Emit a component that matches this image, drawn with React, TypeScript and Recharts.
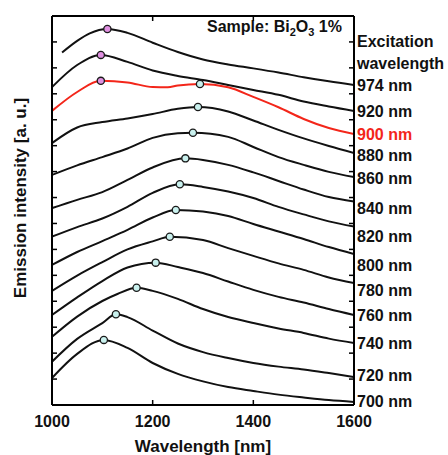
import { ComposedChart, Line, Scatter, XAxis, YAxis } from "recharts"

const FONT = "'Liberation Sans', Arial, Helvetica, sans-serif"
const RED = "#f3261a"

// emission spectra, one per excitation wavelength (x = nm, y = a.u. offset stack)
const x974 = [1020, 1050, 1075, 1110, 1150, 1200, 1250, 1300, 1350, 1400, 1450, 1500, 1550, 1600]
const y974 = [13.59, 14.04, 14.33, 14.5, 14.35, 13.97, 13.61, 13.32, 13.13, 12.98, 12.82, 12.64, 12.48, 12.34]

const x920 = [1000, 1050, 1097, 1150, 1200, 1250, 1300, 1350, 1400, 1450, 1500, 1550, 1600]
const y920 = [12.26, 13.11, 13.5, 13.23, 12.9, 12.69, 12.53, 12.34, 12.15, 11.96, 11.7, 11.51, 11.34]

const x900 = [1000, 1050, 1097, 1150, 1200, 1230, 1250, 1294, 1350, 1400, 1450, 1500, 1550, 1600]
const y900 = [11.34, 12.07, 12.5, 12.44, 12.26, 12.25, 12.32, 12.38, 12.25, 11.88, 11.48, 11.03, 10.68, 10.45]

const x880 = [1000, 1050, 1100, 1150, 1200, 1250, 1290, 1350, 1400, 1450, 1500, 1550, 1600]
const y880 = [10.1, 10.7, 10.91, 11.05, 11.22, 11.42, 11.49, 11.32, 10.97, 10.61, 10.28, 9.99, 9.72]

const x860 = [1000, 1050, 1100, 1150, 1200, 1250, 1280, 1350, 1400, 1450, 1500, 1550, 1600]
const y860 = [8.87, 9.24, 9.56, 9.89, 10.3, 10.48, 10.5, 10.34, 9.95, 9.56, 9.26, 8.99, 8.79]

const x840 = [1000, 1050, 1100, 1150, 1200, 1265, 1300, 1350, 1400, 1450, 1500, 1550, 1600]
const y840 = [7.59, 7.91, 8.21, 8.68, 9.16, 9.51, 9.45, 9.26, 8.97, 8.64, 8.31, 8.02, 7.85]

const x820 = [1000, 1050, 1100, 1150, 1200, 1254, 1300, 1350, 1400, 1450, 1500, 1550, 1600]
const y820 = [6.49, 6.86, 7.19, 7.64, 8.18, 8.51, 8.41, 8.23, 7.98, 7.64, 7.35, 7.08, 6.88]

const x800 = [1000, 1050, 1100, 1150, 1200, 1246, 1300, 1350, 1400, 1450, 1500, 1550, 1600]
const y800 = [5.4, 5.9, 6.32, 6.75, 7.23, 7.52, 7.46, 7.29, 6.98, 6.69, 6.4, 6.09, 5.82]

const x780 = [1000, 1050, 1100, 1150, 1200, 1234, 1300, 1350, 1400, 1450, 1500, 1550, 1600]
const y780 = [4.4, 4.99, 5.51, 6.0, 6.31, 6.49, 6.36, 6.05, 5.75, 5.46, 5.21, 4.92, 4.7]

const x760 = [1000, 1050, 1100, 1150, 1206, 1250, 1300, 1350, 1400, 1450, 1500, 1550, 1600]
const y760 = [3.47, 4.15, 4.78, 5.3, 5.49, 5.32, 5.09, 4.76, 4.44, 4.17, 3.95, 3.7, 3.47]

const x740 = [1000, 1050, 1100, 1130, 1168, 1200, 1250, 1300, 1350, 1400, 1450, 1500, 1550, 1600]
const y740 = [2.63, 3.41, 4.01, 4.28, 4.52, 4.4, 4.09, 3.7, 3.39, 3.16, 2.95, 2.78, 2.56, 2.39]

const x720 = [1000, 1050, 1100, 1127, 1150, 1200, 1250, 1300, 1350, 1400, 1450, 1500, 1550, 1600]
const y720 = [1.67, 2.55, 3.16, 3.5, 3.39, 2.87, 2.37, 2.04, 1.81, 1.62, 1.48, 1.37, 1.23, 1.08]

const x700 = [1000, 1050, 1103, 1150, 1200, 1250, 1300, 1350, 1400, 1450, 1500, 1550, 1600]
const y700 = [1.04, 1.97, 2.51, 2.2, 1.62, 1.2, 0.91, 0.69, 0.54, 0.4, 0.29, 0.19, 0.12]

// peak markers
const pinkX = [1110, 1097, 1097]
const pinkY = [14.5, 13.5, 12.5]
const cyanX = [1294, 1290, 1280, 1265, 1254, 1246, 1234, 1206, 1168, 1127, 1103]
const cyanY = [12.38, 11.49, 10.5, 9.51, 8.51, 7.52, 6.49, 5.49, 4.52, 3.5, 2.51]

// right-hand labels
const excLabels = ["974 nm", "920 nm", "900 nm", "880 nm", "860 nm", "840 nm", "820 nm", "800 nm", "780 nm", "760 nm", "740 nm", "720 nm", "700 nm"]
const excLabelPos = [12.34, 11.31, 10.45, 9.64, 8.74, 7.59, 6.49, 5.4, 4.43, 3.47, 2.38, 1.16, 0.13]

const xTicks = [1000, 1200, 1400, 1600]
const yTicks = [0, 1, 2, 3, 4, 5, 6, 7, 8, 9, 10, 11, 12, 13, 14, 15]

const zip = (xs: number[], ys: number[]) => xs.map((x, i) => ({ x, y: ys[i] }))

const curves = [
    { name: "974", data: zip(x974, y974), color: "#111" },
    { name: "920", data: zip(x920, y920), color: "#111" },
    { name: "900", data: zip(x900, y900), color: RED },
    { name: "880", data: zip(x880, y880), color: "#111" },
    { name: "860", data: zip(x860, y860), color: "#111" },
    { name: "840", data: zip(x840, y840), color: "#111" },
    { name: "820", data: zip(x820, y820), color: "#111" },
    { name: "800", data: zip(x800, y800), color: "#111" },
    { name: "780", data: zip(x780, y780), color: "#111" },
    { name: "760", data: zip(x760, y760), color: "#111" },
    { name: "740", data: zip(x740, y740), color: "#111" },
    { name: "720", data: zip(x720, y720), color: "#111" },
    { name: "700", data: zip(x700, y700), color: "#111" },
]

// invisible helper series so the frame axes get a domain
const frameData = zip(xTicks, [0, 0, 0, 0])

const NoTick = () => <g />

function ExcTick(props: any) {
    const { x, y, payload } = props
    const i = excLabelPos.indexOf(payload.value)
    const label = excLabels[i]
    return (
        <text x={x} y={y} dy="0.36em" fill={label === "900 nm" ? RED : "#111"}
            fontSize={16} fontWeight="bold" fontFamily={FONT}>
            {label}
        </text>
    )
}

const dot = (fill: string) => (p: any) =>
    <circle cx={p.cx} cy={p.cy} r={3.6} fill={fill} stroke="#1a1a1a" strokeWidth={1.3} />

const frameLine = { stroke: "#000", strokeWidth: 2 }
const tickStroke = { stroke: "#000", strokeWidth: 1.5 }

export default function App() {
    return (
        <div style={{ position: "absolute", left: 0, top: 0, width: 448, height: 455, background: "#fff", fontFamily: FONT }}>
            <ComposedChart width={448} height={455} margin={{ top: 16, right: 0, bottom: 0, left: 52 }}>
                {/* bottom labels */}
                <XAxis dataKey="x" type="number" domain={[1000, 1600]} ticks={xTicks} allowDataOverflow
                    height={50} tickSize={0} tickMargin={11} interval={0}
                    axisLine={frameLine} tickLine={false}
                    tick={{ fill: "#111", fontSize: 16, fontWeight: "bold", fontFamily: FONT }}
                    label={{ value: "Wavelength [nm]", position: "insideBottom", offset: 3, fill: "#111", fontSize: 17, fontWeight: "bold", fontFamily: FONT }} />
                {/* inward ticks, bottom and top */}
                <XAxis xAxisId="bt" orientation="bottom" mirror dataKey="x" type="number" domain={[1000, 1600]} ticks={xTicks}
                    allowDataOverflow tickSize={5} tick={NoTick} interval={0} axisLine={frameLine} tickLine={tickStroke} />
                <XAxis xAxisId="top" orientation="top" mirror dataKey="x" type="number" domain={[1000, 1600]} ticks={xTicks}
                    allowDataOverflow tickSize={5} tick={NoTick} interval={0} axisLine={frameLine} tickLine={tickStroke} />
                <YAxis type="number" domain={[0, 15]} ticks={yTicks} mirror tickSize={5} tick={NoTick} interval={0}
                    axisLine={frameLine} tickLine={tickStroke}
                    label={{
                        content: () => (
                            <text x={20} y={198} transform="rotate(-90 20 198)" textAnchor="middle" dominantBaseline="central"
                                fill="#111" fontSize={17} fontWeight="bold" fontFamily={FONT}>
                                Emission intensity [a. u.]
                            </text>
                        ),
                    }} />
                <YAxis yAxisId="r" orientation="right" mirror type="number" domain={[0, 15]} ticks={yTicks}
                    tickSize={5} tick={NoTick} interval={0} axisLine={frameLine} tickLine={tickStroke} />
                <YAxis yAxisId="lab" orientation="right" type="number" domain={[0, 15]} ticks={excLabelPos} width={94}
                    interval={0} tickSize={0} tickMargin={3} axisLine={false} tickLine={false} tick={<ExcTick />} />

                <Line data={frameData} xAxisId="top" yAxisId="r" dataKey="y" stroke="none" dot={false} activeDot={false} isAnimationActive={false} />
                <Line data={frameData} xAxisId="bt" yAxisId="lab" dataKey="y" stroke="none" dot={false} activeDot={false} isAnimationActive={false} />

                {curves.map((c) => (
                    <Line key={c.name} data={c.data} dataKey="y" type="monotone" stroke={c.color}
                        strokeWidth={2} dot={false} activeDot={false} isAnimationActive={false} />
                ))}
                <Scatter data={zip(pinkX, pinkY)} dataKey="y" shape={dot("#df8fe0")} isAnimationActive={false} />
                <Scatter data={zip(cyanX, cyanY)} dataKey="y" shape={dot("#c9f1ee")} isAnimationActive={false} />
            </ComposedChart>

            <div style={{ position: "absolute", left: 207, top: 18, fontSize: 16, fontWeight: "bold", color: "#111", lineHeight: "18px", whiteSpace: "nowrap" }}>
                Sample: Bi<span style={{ fontSize: 11, position: "relative", top: 4 }}>2</span>O<span style={{ fontSize: 11, position: "relative", top: 4 }}>3</span> 1%
            </div>
            <div style={{ position: "absolute", left: 357, top: 31, fontSize: 16, fontWeight: "bold", color: "#111", lineHeight: "22px", whiteSpace: "nowrap" }}>
                Excitation<br />wavelength
            </div>
        </div>
    )
}
